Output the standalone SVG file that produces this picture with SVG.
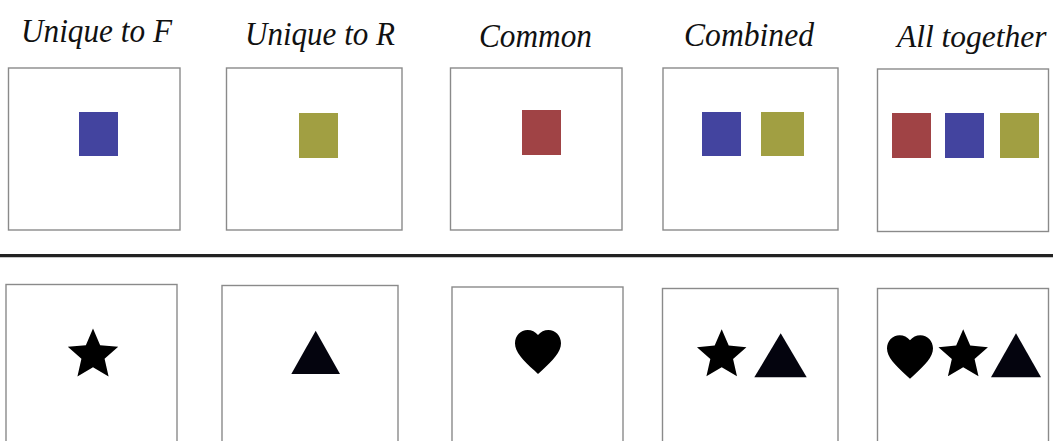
<svg xmlns="http://www.w3.org/2000/svg" xmlns:xlink="http://www.w3.org/1999/xlink" width="1053" height="441" viewBox="0 0 1053 441">
<style>
.lbl{font-family:"Liberation Serif","Times New Roman",serif;font-style:italic;font-size:34px;fill:#111}
.box{fill:#fff;stroke:#8a8a8a;stroke-width:1.4}
.blue{fill:#43449f}
.olive{fill:#a19f42}
.red{fill:#a04345}
.ink{fill:#000}
.tri{fill:#04040e}
</style>
<defs>
<polygon id="star" points="0,-1 0.27,-0.372 0.951,-0.309 0.437,0.142 0.588,0.809 0,0.46 -0.588,0.809 -0.437,0.142 -0.951,-0.309 -0.27,-0.372"/>
<path id="heart" transform="translate(-12,-12.175)" d="M12 21.35l-1.45-1.32C5.4 15.36 2 12.28 2 8.5 2 5.42 4.42 3 7.5 3c1.74 0 3.41.81 4.5 2.09C13.09 3.81 14.76 3 16.5 3 19.58 3 22 5.42 22 8.5c0 3.78-3.4 6.86-8.55 11.54L12 21.35z"/>
</defs>
<rect width="1053" height="441" fill="#fff"/>
<g id="labels">
<text class="lbl" x="21" y="42" textLength="151" lengthAdjust="spacingAndGlyphs">Unique to F</text>
<text class="lbl" x="245" y="45" textLength="150" lengthAdjust="spacingAndGlyphs">Unique to R</text>
<text class="lbl" x="479" y="47" textLength="113" lengthAdjust="spacingAndGlyphs">Common</text>
<text class="lbl" x="684" y="46" textLength="130" lengthAdjust="spacingAndGlyphs">Combined</text>
<text class="lbl" x="897" y="47" style="font-size:31.5px">All together</text>
</g>
<g id="connectors">
<line x1="0" y1="255.6" x2="1053" y2="255.6" stroke="#222" stroke-width="3.4"/>
</g>
<g id="top-unique-f">
<rect class="box" x="8.5" y="68" width="171.5" height="162"/>
<rect class="blue" x="79" y="112" width="39" height="44"/>
</g>
<g id="top-unique-r">
<rect class="box" x="226.5" y="68" width="175.5" height="162"/>
<rect class="olive" x="299" y="113" width="39" height="45"/>
</g>
<g id="top-common">
<rect class="box" x="450.5" y="68" width="171.5" height="162"/>
<rect class="red" x="522" y="110" width="39" height="45"/>
</g>
<g id="top-combined">
<rect class="box" x="663" y="68" width="175" height="162"/>
<rect class="blue" x="702" y="112" width="39" height="44"/>
<rect class="olive" x="761" y="112" width="43" height="44"/>
</g>
<g id="top-all">
<rect class="box" x="877.5" y="69" width="171" height="162.5"/>
<rect class="red" x="892" y="113" width="39" height="45"/>
<rect class="blue" x="945" y="113" width="39" height="45"/>
<rect class="olive" x="1000" y="113" width="39" height="45"/>
</g>
<g id="bottom-unique-f">
<rect class="box" x="6" y="284.5" width="171" height="170"/>
<use xlink:href="#star" class="ink" transform="translate(93,355) scale(26.5)"/>
</g>
<g id="bottom-unique-r">
<rect class="box" x="222" y="285.5" width="176" height="170"/>
<polygon class="tri" points="315.7,330.7 291.3,374 340,374"/>
</g>
<g id="bottom-common">
<rect class="box" x="452" y="287" width="171" height="170"/>
<use xlink:href="#heart" class="ink" transform="translate(538,352) scale(2.3,2.4)"/>
</g>
<g id="bottom-combined">
<rect class="box" x="662.5" y="288.5" width="175.5" height="170"/>
<use xlink:href="#star" class="ink" transform="translate(721.7,355.2) scale(26)"/>
<polygon class="tri" points="780.7,333.3 754.3,377.3 806.7,377.3"/>
</g>
<g id="bottom-all">
<rect class="box" x="877.5" y="288.5" width="171" height="170"/>
<use xlink:href="#heart" class="ink" transform="translate(910,357) scale(2.3,2.38)"/>
<use xlink:href="#star" class="ink" transform="translate(963.2,355.2) scale(26)"/>
<polygon class="tri" points="1016,333.3 991,377.3 1041,377.3"/>
</g>
</svg>
